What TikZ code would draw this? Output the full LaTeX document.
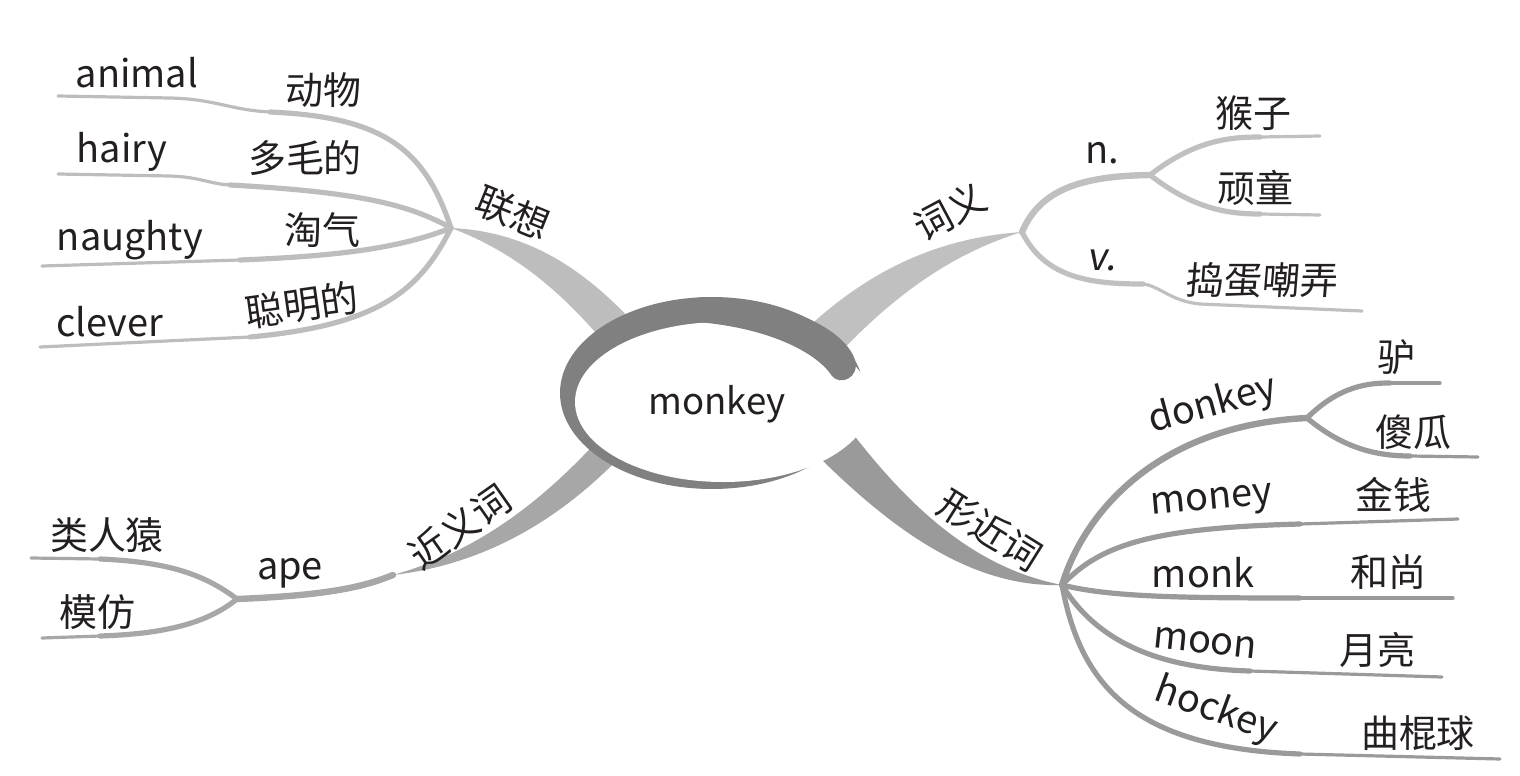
\documentclass[tikz,border=0pt]{standalone}
\usepackage{fontspec}
\setmainfont{Noto Sans CJK SC}
\definecolor{texte}{HTML}{231F20}
\definecolor{anneau}{HTML}{808080}
\definecolor{grisA}{HTML}{BDBDBD}
\definecolor{grisB}{HTML}{C0C0C0}
\definecolor{grisC}{HTML}{A7A7A7}
\definecolor{grisD}{HTML}{9A9A9A}
\begin{document}
\begin{tikzpicture}[x=0.025cm,y=-0.025cm,
    mot/.style={font=\fontsize{27}{30}\selectfont, text=texte, inner sep=0pt},
    feuille/.style={line width=1.3mm, line cap=round},
    bout/.style={line width=0.8mm, line cap=round},
    tige/.style={line width=1.6mm, line cap=round}]
    \useasboundingbox (0,0) rectangle (1520,776);

    % Les noeuds de branchement
    \coordinate (hubA) at (451,228);
    \coordinate (hubB) at (1022,232);
    \coordinate (hubC) at (393,575);
    \coordinate (hubD) at (1062,585);
    \coordinate (hubN) at (1150,175);
    \coordinate (hubApe) at (237,599);
    \coordinate (hubDon) at (1307,418);

    % Les extremites des feuilles
    \coordinate (eAnimal) at (58,96);
    \coordinate (eHairy) at (58,174);
    \coordinate (eNaughty) at (42,266);
    \coordinate (eClever) at (40,347);
    \coordinate (eHouzi) at (1320,136);
    \coordinate (eWantong) at (1320,215);
    \coordinate (eDaodan) at (1362,311);
    \coordinate (eLeiren) at (31,558);
    \coordinate (eMofang) at (42,638);
    \coordinate (eLv) at (1440,383);
    \coordinate (eShagua) at (1478,457);
    \coordinate (eMoney) at (1458,519);
    \coordinate (eMonk) at (1453,598);
    \coordinate (eMoon) at (1442,677);
    \coordinate (eHockey) at (1500,759);

    % Les troncs (effiles)
    \fill[grisA] (hubA) .. controls (520,231) and (580,262) .. (640,330)
        -- (612,352) .. controls (560,288) and (510,250) .. (hubA);
    \fill[grisB] (hubB) .. controls (950,237) and (875,262) .. (800,335)
        -- (835,358) .. controls (900,288) and (960,251) .. (hubB);
    \fill[grisC] (hubC) .. controls (460,556) and (525,520) .. (600,438)
        -- (622,455) .. controls (548,532) and (470,566) .. (hubC);
    \fill[grisD] (hubD) .. controls (980,569) and (915,515) .. (850,430)
        -- (820,458) .. controls (890,527) and (970,588) .. (hubD);

    % Branche : association
    \draw[feuille, grisA] (hubA) .. controls (425,150) and (385,117) .. (270,112);
    \draw[bout, grisA] (270,112) .. controls (230,110) and (215,99) .. (170,98) -- (eAnimal);
    \draw[feuille, grisA] (hubA) .. controls (410,205) and (360,192) .. (230,185);
    \draw[bout, grisA] (230,185) .. controls (210,184) and (200,177) .. (170,176) -- (eHairy);
    \draw[feuille, grisA] (hubA) .. controls (400,248) and (340,256) .. (240,260);
    \draw[bout, grisA] (240,260) -- (eNaughty);
    \draw[feuille, grisA] (hubA) .. controls (420,290) and (380,325) .. (250,337);
    \draw[bout, grisA] (250,337) -- (eClever);

    % Branche : sens
    \draw[tige, grisB] (hubB) .. controls (1040,190) and (1080,176) .. (hubN);
    \draw[feuille, grisB] (hubN) .. controls (1195,140) and (1230,137) .. (1260,137);
    \draw[bout, grisB] (1260,137) -- (eHouzi);
    \draw[feuille, grisB] (hubN) .. controls (1195,210) and (1230,214) .. (1260,214);
    \draw[bout, grisB] (1260,214) -- (eWantong);
    \draw[feuille, grisB] (hubB) .. controls (1045,278) and (1090,284) .. (1143,284);
    \draw[bout, grisB] (1143,284) .. controls (1160,286) and (1170,301) .. (1200,304) -- (eDaodan);

    % Branche : synonymes
    \draw[tige, grisC] (hubC) .. controls (370,584) and (340,595) .. (hubApe);
    \draw[feuille, grisC] (hubApe) .. controls (205,575) and (170,562) .. (100,559);
    \draw[bout, grisC] (100,559) -- (eLeiren);
    \draw[feuille, grisC] (hubApe) .. controls (205,625) and (160,634) .. (100,636);
    \draw[bout, grisC] (100,636) -- (eMofang);

    % Branche : mots proches
    \draw[tige, grisD] (hubD) .. controls (1085,510) and (1160,425) .. (hubDon);
    \draw[feuille, grisD] (hubDon) .. controls (1340,385) and (1370,383) .. (1390,383);
    \draw[bout, grisD] (1390,383) -- (eLv);
    \draw[feuille, grisD] (hubDon) .. controls (1345,450) and (1380,456) .. (1410,456);
    \draw[bout, grisD] (1410,456) -- (eShagua);
    \draw[feuille, grisD] (hubD) .. controls (1100,545) and (1150,528) .. (1300,524);
    \draw[bout, grisD] (1300,524) -- (eMoney);
    \draw[feuille, grisD] (hubD) .. controls (1110,597) and (1180,598) .. (1300,598);
    \draw[bout, grisD] (1300,598) -- (eMonk);
    \draw[feuille, grisD] (hubD) .. controls (1090,630) and (1140,668) .. (1250,671);
    \draw[bout, grisD] (1250,671) -- (eMoon);
    \draw[feuille, grisD] (hubD) .. controls (1080,682) and (1130,748) .. (1300,754);
    \draw[bout, grisD] (1300,754) -- (eHockey);

    % Le centre
    \fill[anneau] (712,393) ellipse [x radius=152, y radius=96];
    \fill[white] (723,402) ellipse [x radius=148, y radius=80];
    \fill[anneau] (680,321) .. controls (760,324) and (815,350) .. (832,376)
        .. controls (840,386) and (860,378) .. (855,360)
        .. controls (845,330) and (790,300) .. (700,297) -- cycle;
    \node[mot, font=\fontsize{26}{30}\selectfont] (ctr) at (717,404) {monkey};

    % Les etiquettes
    \node[mot, rotate=-22] (lianxiang) at (513,213) {联想};
    \node[mot] (animal) at (137,73) {animal};
    \node[mot] (dongwu) at (323,90) {动物};
    \node[mot] (hairy) at (122,152) {hairy};
    \node[mot] (duomao) at (305,158) {多毛的};
    \node[mot] (naughty) at (130,240) {naughty};
    \node[mot] (taoqi) at (322,230) {淘气};
    \node[mot] (clever) at (110,322) {clever};
    \node[mot, rotate=8] (congming) at (302,305) {聪明的};

    \node[mot, rotate=28] (ciyi) at (950,212) {词义};
    \node[mot] (nom) at (1102,153) {n.};
    \node[mot] (houzi) at (1253,113) {猴子};
    \node[mot] (wantong) at (1255,188) {顽童};
    \node[mot, xslant=0.15] (verbe) at (1103,260) {v.};
    \node[mot, xslant=0.08] (daodan) at (1263,280) {捣蛋嘲弄};

    \node[mot, rotate=35] (jinyi) at (460,527) {近义词};
    \node[mot] (ape) at (290,573) {ape};
    \node[mot] (leiren) at (107,535) {类人猿};
    \node[mot] (mofang) at (97,612) {模仿};

    \node[mot, rotate=-32] (xingjin) at (990,530) {形近词};
    \node[mot, rotate=15] (donkey) at (1213,405) {donkey};
    \node[mot] (lv) at (1396,357) {驴};
    \node[mot] (shagua) at (1413,432) {傻瓜};
    \node[mot, rotate=5] (money) at (1212,503) {money};
    \node[mot] (jinqian) at (1393,495) {金钱};
    \node[mot] (monk) at (1203,573) {monk};
    \node[mot] (heshang) at (1388,572) {和尚};
    \node[mot, rotate=-6] (moon) at (1205,643) {moon};
    \node[mot] (yueliang) at (1377,650) {月亮};
    \node[mot, rotate=-20] (hockey) at (1216,711) {hockey};
    \node[mot] (qugunqiu) at (1418,733) {曲棍球};
\end{tikzpicture}
\end{document}
